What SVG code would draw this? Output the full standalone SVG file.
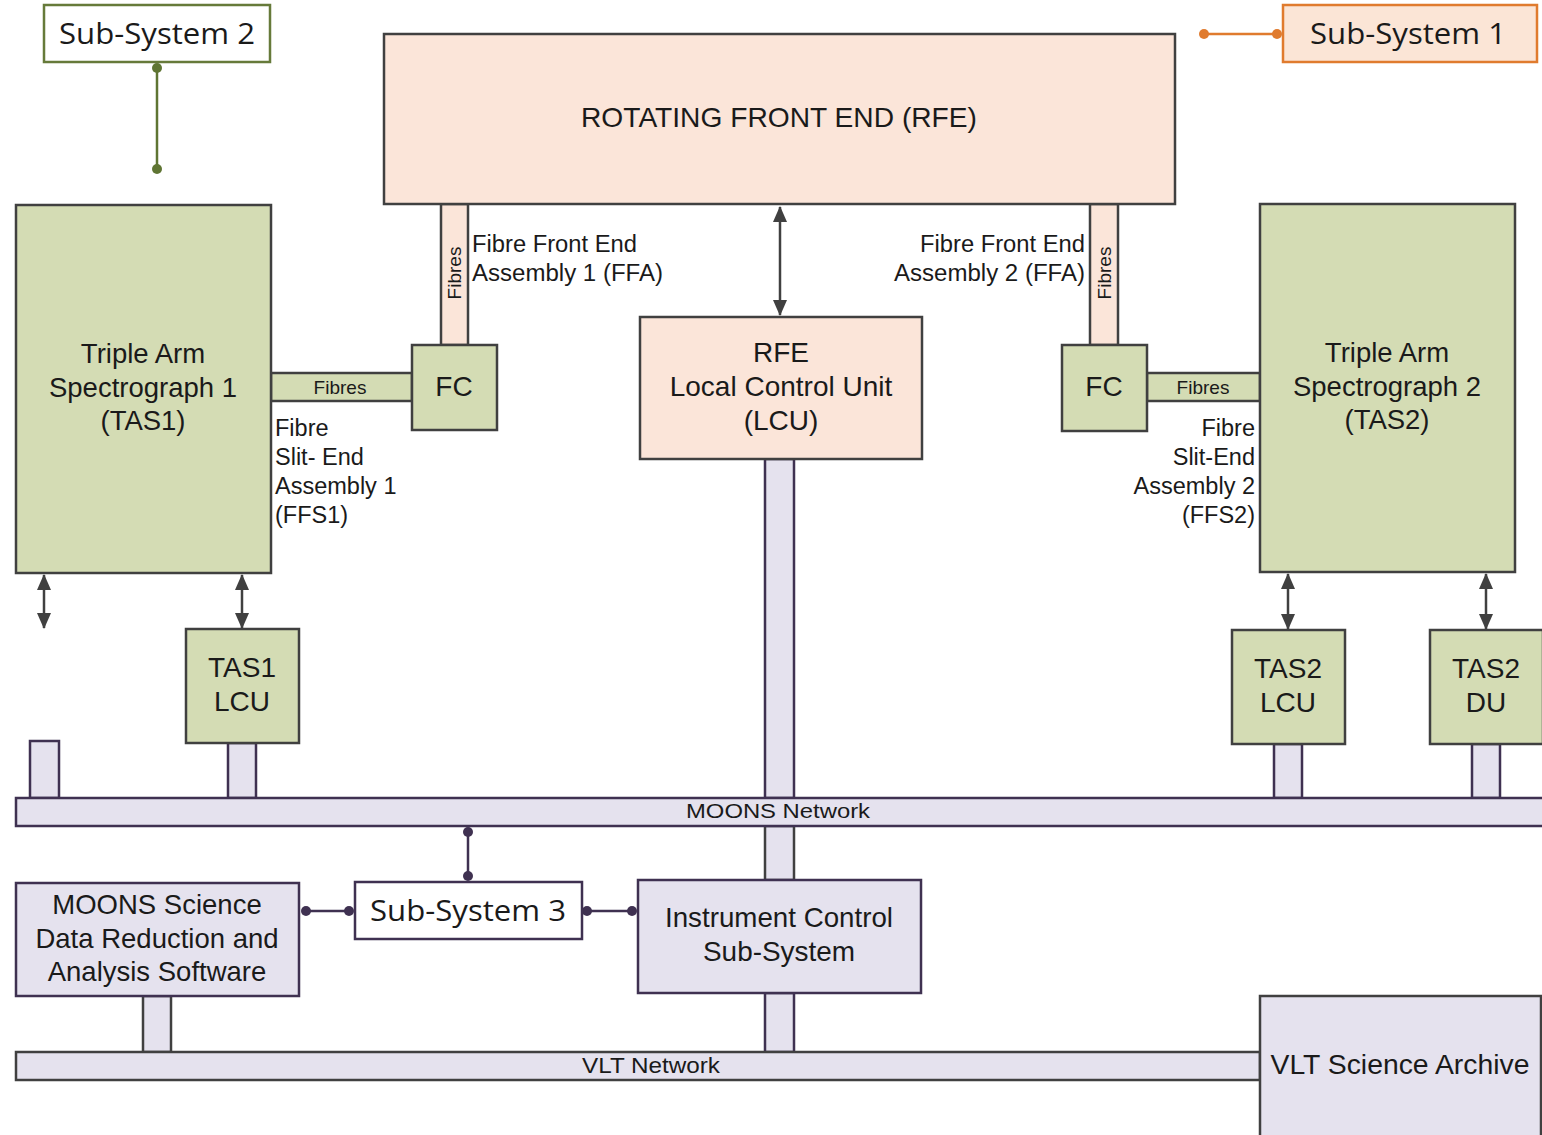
<svg xmlns="http://www.w3.org/2000/svg" width="1542" height="1135" viewBox="0 0 1542 1135">
<style>
.t{font-family:"Liberation Sans",Arial,sans-serif;fill:#1a1a1a}
.c{font-family:"Open Sans","Noto Sans",sans-serif;fill:#1a1a1a}
.peach{fill:#fbe5d9;stroke:#404040;stroke-width:2.5}
.green{fill:#d4dcb4;stroke:#404040;stroke-width:2.5}
.lav{fill:#e5e2ee;stroke:#3f3151;stroke-width:2.5}
.lavg{fill:#e5e2ee;stroke:#404040;stroke-width:2.5}
.arr{stroke:#404040;stroke-width:2.5;fill:none;marker-start:url(#ah);marker-end:url(#ah)}
</style>
<defs>
<marker id="ah" viewBox="0 0 16 14" refX="15" refY="7" markerWidth="16" markerHeight="14" orient="auto-start-reverse" markerUnits="userSpaceOnUse">
<path d="M0,0 L16,7 L0,14 z" fill="#404040"/>
</marker>
</defs>
<rect width="1542" height="1135" fill="#ffffff"/>

<g id="connectors">
<line x1="157" y1="68" x2="157" y2="169" stroke="#5f7533" stroke-width="2.5"/>
<circle cx="157" cy="68" r="5" fill="#5f7533"/><circle cx="157" cy="169" r="5" fill="#5f7533"/>
<line x1="1204" y1="34" x2="1277" y2="34" stroke="#e07b2e" stroke-width="2.5"/>
<circle cx="1204" cy="34" r="5" fill="#e07b2e"/><circle cx="1277" cy="34" r="5" fill="#e07b2e"/>
<line x1="780" y1="207" x2="780" y2="315" class="arr"/>
<line x1="44" y1="575" x2="44" y2="628" class="arr"/>
<line x1="242" y1="575" x2="242" y2="628" class="arr"/>
<line x1="1288" y1="574" x2="1288" y2="629" class="arr"/>
<line x1="1486" y1="574" x2="1486" y2="629" class="arr"/>
<line x1="468" y1="832" x2="468" y2="876" stroke="#3f3151" stroke-width="2.5"/>
<circle cx="468" cy="832" r="5" fill="#3f3151"/><circle cx="468" cy="876" r="5" fill="#3f3151"/>
<line x1="306" y1="911" x2="349" y2="911" stroke="#3f3151" stroke-width="2.5"/>
<circle cx="306" cy="911" r="5" fill="#3f3151"/><circle cx="349" cy="911" r="5" fill="#3f3151"/>
<line x1="587" y1="911" x2="632" y2="911" stroke="#3f3151" stroke-width="2.5"/>
<circle cx="587" cy="911" r="5" fill="#3f3151"/><circle cx="632" cy="911" r="5" fill="#3f3151"/>
</g>

<g id="fibres-links">
<rect x="441" y="204" width="27" height="141" class="peach"/>
<text class="t" font-size="19" transform="translate(461,273) rotate(-90)" text-anchor="middle">Fibres</text>
<rect x="1090" y="204" width="28" height="141" class="peach"/>
<text class="t" font-size="19" transform="translate(1111,273) rotate(-90)" text-anchor="middle">Fibres</text>
<rect x="271" y="373" width="141" height="28" class="green"/>
<text class="t" font-size="19" x="340" y="394" text-anchor="middle">Fibres</text>
<rect x="1147" y="373" width="113" height="28" class="green"/>
<text class="t" font-size="19" x="1203" y="394" text-anchor="middle">Fibres</text>
</g>

<g id="stubs">
<rect x="765" y="459" width="29" height="339" class="lav"/>
<rect x="765" y="826" width="29" height="54" class="lavg"/>
<rect x="765" y="993" width="29" height="59" class="lav"/>
<rect x="30" y="741" width="29" height="57" class="lav"/>
<rect x="228" y="743" width="28" height="55" class="lav"/>
<rect x="1274" y="744" width="28" height="54" class="lav"/>
<rect x="1472" y="744" width="28" height="54" class="lav"/>
<rect x="143" y="996" width="28" height="56" class="lavg"/>
</g>

<g id="ss2">
<rect x="44" y="5" width="226" height="57" fill="#ffffff" stroke="#667a3a" stroke-width="2.5"/>
<text class="c" font-size="29" x="157" y="44" text-anchor="middle" textLength="196" lengthAdjust="spacingAndGlyphs">Sub-System 2</text>
</g>
<g id="ss1">
<rect x="1283" y="5" width="254" height="57" fill="#fbe5d6" stroke="#e07b2e" stroke-width="2.5"/>
<text class="c" font-size="29" x="1408" y="44" text-anchor="middle" textLength="196" lengthAdjust="spacingAndGlyphs">Sub-System 1</text>
</g>

<g id="rfe">
<rect x="384" y="34" width="791" height="170" class="peach"/>
<text class="t" font-size="28" x="779" y="127" text-anchor="middle" textLength="396" lengthAdjust="spacingAndGlyphs">ROTATING FRONT END (RFE)</text>
</g>

<g id="ffa1-label">
<text class="t" font-size="23" x="472" y="252" textLength="165" lengthAdjust="spacingAndGlyphs">Fibre Front End</text>
<text class="t" font-size="23" x="472" y="281" textLength="191" lengthAdjust="spacingAndGlyphs">Assembly 1 (FFA)</text>
</g>
<g id="ffa2-label">
<text class="t" font-size="23" x="1085" y="252" text-anchor="end" textLength="165" lengthAdjust="spacingAndGlyphs">Fibre Front End</text>
<text class="t" font-size="23" x="1085" y="281" text-anchor="end" textLength="191" lengthAdjust="spacingAndGlyphs">Assembly 2 (FFA)</text>
</g>

<g id="fc1">
<rect x="412" y="345" width="85" height="85" class="green"/>
<text class="t" font-size="28" x="454" y="396" text-anchor="middle">FC</text>
</g>
<g id="fc2">
<rect x="1062" y="345" width="85" height="86" class="green"/>
<text class="t" font-size="28" x="1104" y="396" text-anchor="middle">FC</text>
</g>

<g id="tas1">
<rect x="16" y="205" width="255" height="368" class="green"/>
<text class="t" font-size="27.5" text-anchor="middle"><tspan x="143" y="363">Triple Arm</tspan><tspan x="143" y="397">Spectrograph 1</tspan><tspan x="143" y="430">(TAS1)</tspan></text>
</g>
<g id="ffs1-label">
<text class="t" font-size="23.5"><tspan x="275" y="436">Fibre</tspan><tspan x="275" y="465">Slit- End</tspan><tspan x="275" y="494">Assembly 1</tspan><tspan x="275" y="523">(FFS1)</tspan></text>
</g>

<g id="tas2">
<rect x="1260" y="204" width="255" height="368" class="green"/>
<text class="t" font-size="27.5" text-anchor="middle"><tspan x="1387" y="362">Triple Arm</tspan><tspan x="1387" y="396">Spectrograph 2</tspan><tspan x="1387" y="429">(TAS2)</tspan></text>
</g>
<g id="ffs2-label">
<text class="t" font-size="23.5" text-anchor="end"><tspan x="1255" y="436">Fibre</tspan><tspan x="1255" y="465">Slit-End</tspan><tspan x="1255" y="494">Assembly 2</tspan><tspan x="1255" y="523">(FFS2)</tspan></text>
</g>

<g id="rfe-lcu">
<rect x="640" y="317" width="282" height="142" class="peach"/>
<text class="t" font-size="28" text-anchor="middle"><tspan x="781" y="362">RFE</tspan><tspan x="781" y="396">Local Control Unit</tspan><tspan x="781" y="430">(LCU)</tspan></text>
</g>

<g id="tas1-lcu">
<rect x="186" y="629" width="113" height="114" class="green"/>
<text class="t" font-size="28" text-anchor="middle"><tspan x="242" y="677">TAS1</tspan><tspan x="242" y="711">LCU</tspan></text>
</g>
<g id="tas2-lcu">
<rect x="1232" y="630" width="113" height="114" class="green"/>
<text class="t" font-size="28" text-anchor="middle"><tspan x="1288" y="678">TAS2</tspan><tspan x="1288" y="712">LCU</tspan></text>
</g>
<g id="tas2-du">
<rect x="1430" y="630" width="113" height="114" class="green"/>
<text class="t" font-size="28" text-anchor="middle"><tspan x="1486" y="678">TAS2</tspan><tspan x="1486" y="712">DU</tspan></text>
</g>

<g id="moons-network">
<rect x="16" y="798" width="1528" height="28" class="lav"/>
<text class="t" font-size="21" x="778" y="818" text-anchor="middle" textLength="184" lengthAdjust="spacingAndGlyphs">MOONS Network</text>
</g>

<g id="ss3">
<rect x="355" y="882" width="227" height="57" fill="#ffffff" stroke="#3f3151" stroke-width="2.5"/>
<text class="c" font-size="29" x="468" y="921" text-anchor="middle" textLength="196" lengthAdjust="spacingAndGlyphs">Sub-System 3</text>
</g>

<g id="moons-sdr">
<rect x="16" y="883" width="283" height="113" class="lav"/>
<text class="t" font-size="27.5" text-anchor="middle"><tspan x="157" y="914">MOONS Science</tspan><tspan x="157" y="948">Data Reduction and</tspan><tspan x="157" y="981">Analysis Software</tspan></text>
</g>

<g id="ics">
<rect x="638" y="880" width="283" height="113" class="lav"/>
<text class="t" font-size="28" x="779" y="927" text-anchor="middle" textLength="228" lengthAdjust="spacingAndGlyphs">Instrument Control</text>
<text class="t" font-size="28" x="779" y="961" text-anchor="middle" textLength="152" lengthAdjust="spacingAndGlyphs">Sub-System</text>
</g>

<g id="vlt-network">
<rect x="16" y="1052" width="1244" height="28" class="lavg"/>
<text class="t" font-size="22" x="651" y="1073" text-anchor="middle" textLength="138" lengthAdjust="spacingAndGlyphs">VLT Network</text>
</g>

<g id="vlt-archive">
<rect x="1260" y="996" width="281" height="150" class="lavg"/>
<text class="t" font-size="28" x="1400" y="1074" text-anchor="middle" textLength="259" lengthAdjust="spacingAndGlyphs">VLT Science Archive</text>
</g>
</svg>
